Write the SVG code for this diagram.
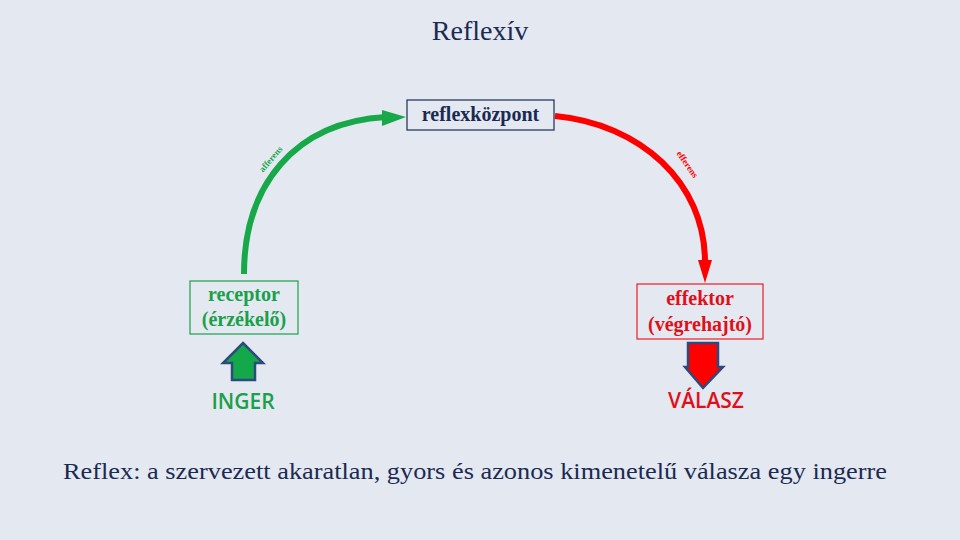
<svg xmlns="http://www.w3.org/2000/svg" width="960" height="540" viewBox="0 0 960 540">
<style>
.serif{font-family:"Liberation Serif","DejaVu Serif",serif}
.navy{fill:#1b2a52}
.lbl{font-family:"Liberation Serif","DejaVu Serif",serif;font-weight:bold;font-size:20px;text-anchor:middle}
.sans{font-family:"Open Sans","Liberation Sans",sans-serif;font-size:21px;font-weight:600;text-anchor:middle}
.tiny{font-family:"Liberation Serif",serif;font-weight:bold;font-size:9px;text-anchor:middle}
</style>
<rect width="960" height="540" fill="#e4e8f0"/>
<text class="serif navy" x="480" y="40" font-size="28" text-anchor="middle">Reflexív</text>

<g id="connectors">
  <path d="M244,274 C244,185 295,122 386,117" fill="none" stroke="#17a84a" stroke-width="6"/>
  <polygon points="382,110 406,117 382,126" fill="#17a84a"/>
  <text class="tiny" x="273" y="161" fill="#17a84a" transform="rotate(-50 273 161)">afferens</text>
  <path d="M555,116 C640,124 705,182 705,262" fill="none" stroke="#ff0000" stroke-width="6"/>
  <polygon points="698,260 712,260 705,283" fill="#ff0000"/>
  <text class="tiny" x="685" y="166" fill="#ff0000" transform="rotate(55 685 166)">efferens</text>
</g>

<g id="reflexkozpont">
  <rect x="407" y="100" width="147" height="30" fill="none" stroke="#1b2a52" stroke-width="1.2"/>
  <text class="lbl navy" x="480.5" y="121" font-size="21">reflexközpont</text>
</g>

<g id="receptor">
  <rect x="190" y="281" width="108" height="53" fill="none" stroke="#1aa04a" stroke-width="1.2"/>
  <text class="lbl" x="244" y="301" fill="#1aa04a">receptor</text>
  <text class="lbl" x="244" y="326" fill="#1aa04a">(érzékelő)</text>
</g>

<g id="effektor">
  <rect x="637" y="284" width="126" height="55" fill="none" stroke="#ee1c24" stroke-width="1.2"/>
  <text class="lbl" x="700" y="305" fill="#e0101a">effektor</text>
  <text class="lbl" x="700" y="331" fill="#e0101a">(végrehajtó)</text>
</g>

<g id="inger">
  <polygon points="243,343 263,363 255,363 255,380 232,380 232,363 223,363" fill="#13a84a" stroke="#2e4a7c" stroke-width="2.5" stroke-linejoin="miter"/>
  <text class="sans" x="243" y="409" fill="#1aa04a">INGER</text>
</g>

<g id="valasz">
  <polygon points="688,343 718,343 718,367 723,367 703,388 685,367 688,367" fill="#ff0000" stroke="#2e4a7c" stroke-width="2.5"/>
  <text class="sans" x="706" y="408" fill="#e0101a">VÁLASZ</text>
</g>

<text class="serif navy" x="63" y="479" font-size="23" textLength="824" lengthAdjust="spacingAndGlyphs">Reflex: a szervezett akaratlan, gyors és azonos kimenetelű válasza egy ingerre</text>
</svg>
